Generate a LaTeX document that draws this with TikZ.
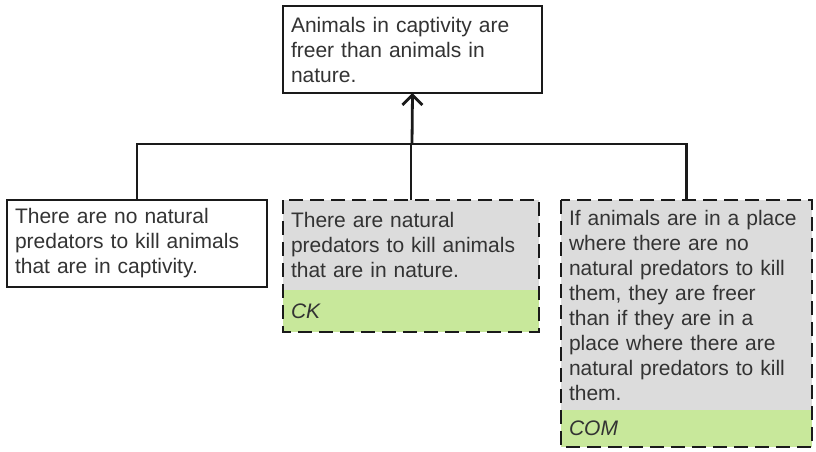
\documentclass[tikz,border=0pt]{standalone}
\usepackage{fontspec}
\setmainfont{Liberation Sans}[WordSpace=1.8]
\usepackage{tikz}
\usetikzlibrary{arrows.meta,positioning}
\definecolor{ink}{HTML}{1A1A1A}
\definecolor{txt}{HTML}{333333}
\definecolor{shade}{HTML}{DCDCDC}
\definecolor{lime}{HTML}{C8E89B}

\begin{document}
\begin{tikzpicture}[x=1pt,y=-1pt,
  box/.style={rectangle,outer sep=0pt,inner xsep=8pt,inner ysep=0pt,align=left,text=txt,font=\fontsize{21}{25}\selectfont,anchor=north west},
  plainbox/.style={box,draw=ink,line width=2.8pt,fill=white},
  greybox/.style={box,fill=shade},
  tagbox/.style={box,fill=lime,font=\fontsize{21}{25}\selectfont\itshape},
  frame/.style={draw=ink,line width=2.8pt,dash pattern=on 14pt off 7pt},
  link/.style={draw=ink,line width=2.8pt}]
\useasboundingbox (0,0) rectangle (816,451);
\node[plainbox,minimum width=259pt,text width=243pt,minimum height=87pt] (c0) at (283,6) {Animals in captivity are\\freer than animals in\\nature.};
\node[plainbox,minimum width=260pt,text width=244pt,minimum height=87pt] (r1) at (7,200) {There are no natural\\predators to kill animals\\that are in captivity.};
\node[greybox,minimum width=256pt,text width=240pt,minimum height=90pt] (r2) at (283,200) {There are natural\\predators to kill animals\\that are in nature.};
\node[tagbox,minimum width=256pt,text width=240pt,minimum height=42pt,below=0pt of r2] (k2) {CK};
\node[greybox,minimum width=251pt,text width=235pt,minimum height=210pt] (r3) at (561,200) {If animals are in a place\\where there are no\\natural predators to kill\\them, they are freer\\than if they are in a\\place where there are\\natural predators to kill\\them.};
\node[tagbox,minimum width=251pt,text width=235pt,minimum height=37pt,below=0pt of r3] (k3) {COM};
\draw[frame] (r2.north west) rectangle (k2.south east);
\draw[frame] (r3.north west) rectangle (k3.south east);
\coordinate (join) at (412,144);
\draw[link] (r1.north) |- (join) -| (r3.north);
\draw[link] (r2.north) -- (r2.north |- join);
\draw[link,-{Straight Barb[length=10pt,width=20pt]}] (join) -- (c0.south);
\end{tikzpicture}
\end{document}
